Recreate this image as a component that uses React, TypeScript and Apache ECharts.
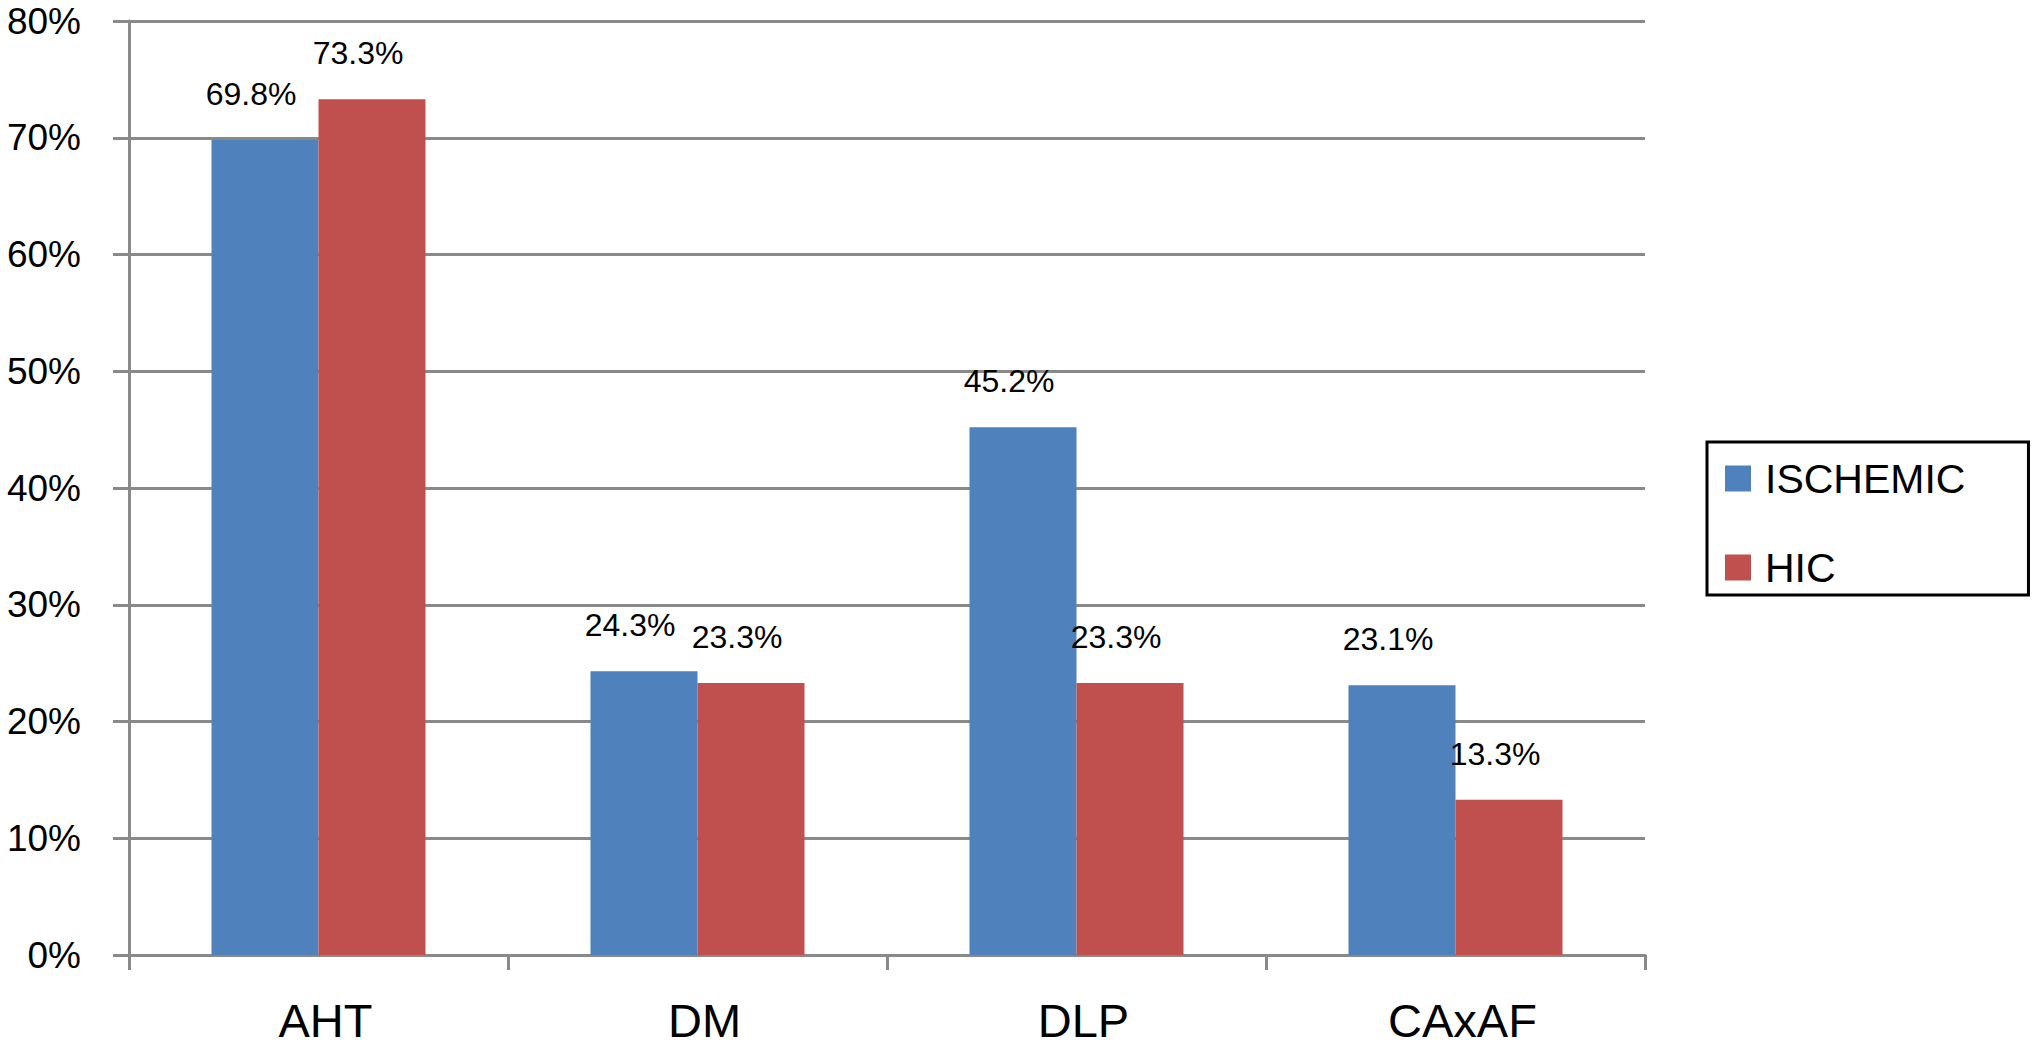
import React, { useEffect, useRef } from "react";
import * as echarts from "echarts";

const categories = ["AHT", "DM", "DLP", "CAxAF"];
const ischemicValues = [69.8, 24.3, 45.2, 23.1];
const hicValues = [73.3, 23.3, 23.3, 13.3];
const seriesNames = ["ISCHEMIC", "HIC"];
const yMin = 0;
const yMax = 80;
const yInterval = 10;

const FONT = "'Liberation Sans', Arial, Helvetica, sans-serif";
const GRID_COLOR = "#898989";

export default function App() {
  const ref = useRef<HTMLDivElement>(null);

  useEffect(() => {
    if (!ref.current) return;
    const chart = echarts.init(ref.current, undefined, { renderer: "svg" });
    const labelCfg = {
      show: true,
      position: "top" as const,
      distance: 30,
      offset: [-14, 0],
      formatter: (p: any) => `${p.value}%`,
      color: "#000",
      fontSize: 32,
      fontFamily: FONT,
    };
    chart.setOption({
      animation: false,
      backgroundColor: "#fff",
      textStyle: { fontFamily: FONT },
      grid: { left: 129, right: 391, top: 21, bottom: 91, containLabel: false },
      legend: {
        orient: "vertical",
        left: 1707,
        top: 442,
        padding: [16, 63, 7, 18],
        itemWidth: 26,
        itemHeight: 26,
        itemGap: 48,
        icon: "rect",
        borderColor: "#000",
        borderWidth: 3,
        backgroundColor: "#fff",
        textStyle: {
          fontSize: 41,
          color: "#000",
          fontFamily: FONT,
          lineHeight: 41,
          padding: [0, 0, 0, 9],
        },
        data: seriesNames,
      },
      xAxis: {
        type: "category",
        data: categories,
        boundaryGap: true,
        axisLine: { show: true, lineStyle: { color: GRID_COLOR, width: 3 } },
        axisTick: { show: true, length: 15, interval: 0, lineStyle: { color: GRID_COLOR, width: 3 } },
        axisLabel: {
          fontSize: 47,
          color: "#000",
          margin: 42,
          fontFamily: FONT,
          interval: 0,
          padding: [0, 0, 0, 14],
        },
        splitLine: { show: false },
      },
      yAxis: {
        type: "value",
        min: yMin,
        max: yMax,
        interval: yInterval,
        axisLine: { show: true, lineStyle: { color: GRID_COLOR, width: 3 } },
        axisTick: { show: true, length: 16, lineStyle: { color: GRID_COLOR, width: 3 } },
        axisLabel: { formatter: "{value}%", fontSize: 37, color: "#000", margin: 48, fontFamily: FONT },
        splitLine: { show: true, lineStyle: { color: GRID_COLOR, width: 3 } },
      },
      series: [
        {
          name: seriesNames[0],
          type: "bar",
          data: ischemicValues,
          barWidth: 107,
          barGap: "0%",
          itemStyle: { color: "#4F81BD" },
          label: labelCfg,
        },
        {
          name: seriesNames[1],
          type: "bar",
          data: hicValues,
          barWidth: 107,
          barGap: "0%",
          itemStyle: { color: "#C0504D" },
          label: labelCfg,
        },
      ],
    });
    return () => chart.dispose();
  }, []);

  return (
    <div
      ref={ref}
      style={{ position: "fixed", left: 0, top: 0, width: 2036, height: 1046, background: "#fff" }}
    />
  );
}
